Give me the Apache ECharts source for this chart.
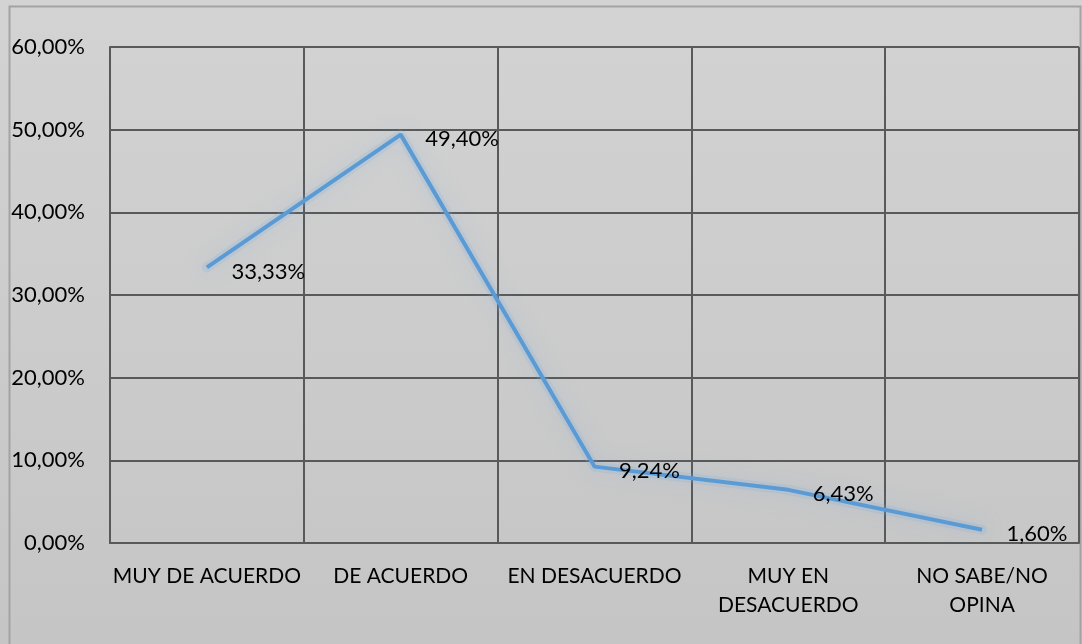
<!DOCTYPE html>
<html>
<head>
<meta charset="utf-8">
<script src="https://cdn.jsdelivr.net/npm/echarts@6/dist/echarts.min.js"></script>
<style>
html,body{margin:0;padding:0;background:#fff;}
#chart{width:1082px;height:644px;}
</style>
</head>
<body>
<div id="chart"></div>
<script>
// datos
var categorias = ['MUY DE ACUERDO', 'DE ACUERDO', 'EN DESACUERDO', 'MUY EN\nDESACUERDO', 'NO SABE/NO\nOPINA'];
var porcentajes = [33.33, 49.40, 9.24, 6.43, 1.60];
var ejeMin = 0, ejeMax = 60, ejeIntervalo = 10;

var fuente = 'Lato, "Open Sans", sans-serif';

function formatoPct(v) {
    return v.toFixed(2).replace('.', ',') + '%';
}

var option = {
    animation: false,
    backgroundColor: new echarts.graphic.LinearGradient(0, 0, 0, 1, [
        {offset: 0, color: '#d3d3d3'},
        {offset: 1, color: '#c5c5c5'}
    ]),
    graphic: [{
        type: 'rect',
        shape: {x: 9.5, y: 6.5, width: 1071, height: 640},
        style: {fill: 'none', stroke: '#a3a3a3', lineWidth: 2},
        silent: true
    }],
    grid: {
        left: 110,
        right: 3,
        top: 47,
        bottom: 101
    },
    xAxis: {
        type: 'category',
        data: categorias,
        boundaryGap: true,
        axisTick: {show: false},
        axisLine: {lineStyle: {color: '#595959', width: 2}},
        splitLine: {
            show: true,
            interval: 0,
            lineStyle: {color: '#595959', width: 2}
        },
        axisLabel: {
            interval: 0,
            color: '#000',
            fontFamily: fuente,
            fontSize: 21,
            lineHeight: 29,
            margin: 19
        }
    },
    yAxis: {
        type: 'value',
        min: ejeMin,
        max: ejeMax,
        interval: ejeIntervalo,
        axisLine: {show: true, lineStyle: {color: '#595959', width: 2}},
        axisTick: {show: false},
        splitLine: {lineStyle: {color: '#595959', width: 2}},
        axisLabel: {
            color: '#000',
            fontFamily: fuente,
            fontSize: 22,
            margin: 25,
            formatter: formatoPct
        }
    },
    series: [{
        // halo suave bajo la línea
        type: 'line',
        data: porcentajes,
        symbol: 'none',
        silent: true,
        lineStyle: {
            color: 'rgba(120,170,220,0.18)',
            width: 10,
            cap: 'round',
            join: 'round',
            shadowColor: 'rgba(110,165,220,0.9)',
            shadowBlur: 22
        },
        z: 1
    }, {
        type: 'line',
        data: porcentajes,
        symbol: 'circle',
        symbolSize: 1,
        showSymbol: true,
        itemStyle: {color: 'rgba(0,0,0,0)'},
        lineStyle: {
            color: '#5b9bd5',
            width: 4
        },
        label: {
            show: true,
            position: 'right',
            distance: 24,
            offset: [0, 4],
            color: '#000',
            fontFamily: fuente,
            fontSize: 22,
            formatter: function (p) {
                return formatoPct(p.value);
            }
        },
        emphasis: {disabled: true},
        z: 3
    }]
};

var myChart = echarts.init(document.getElementById('chart'));
myChart.setOption(option);
</script>
</body>
</html>
